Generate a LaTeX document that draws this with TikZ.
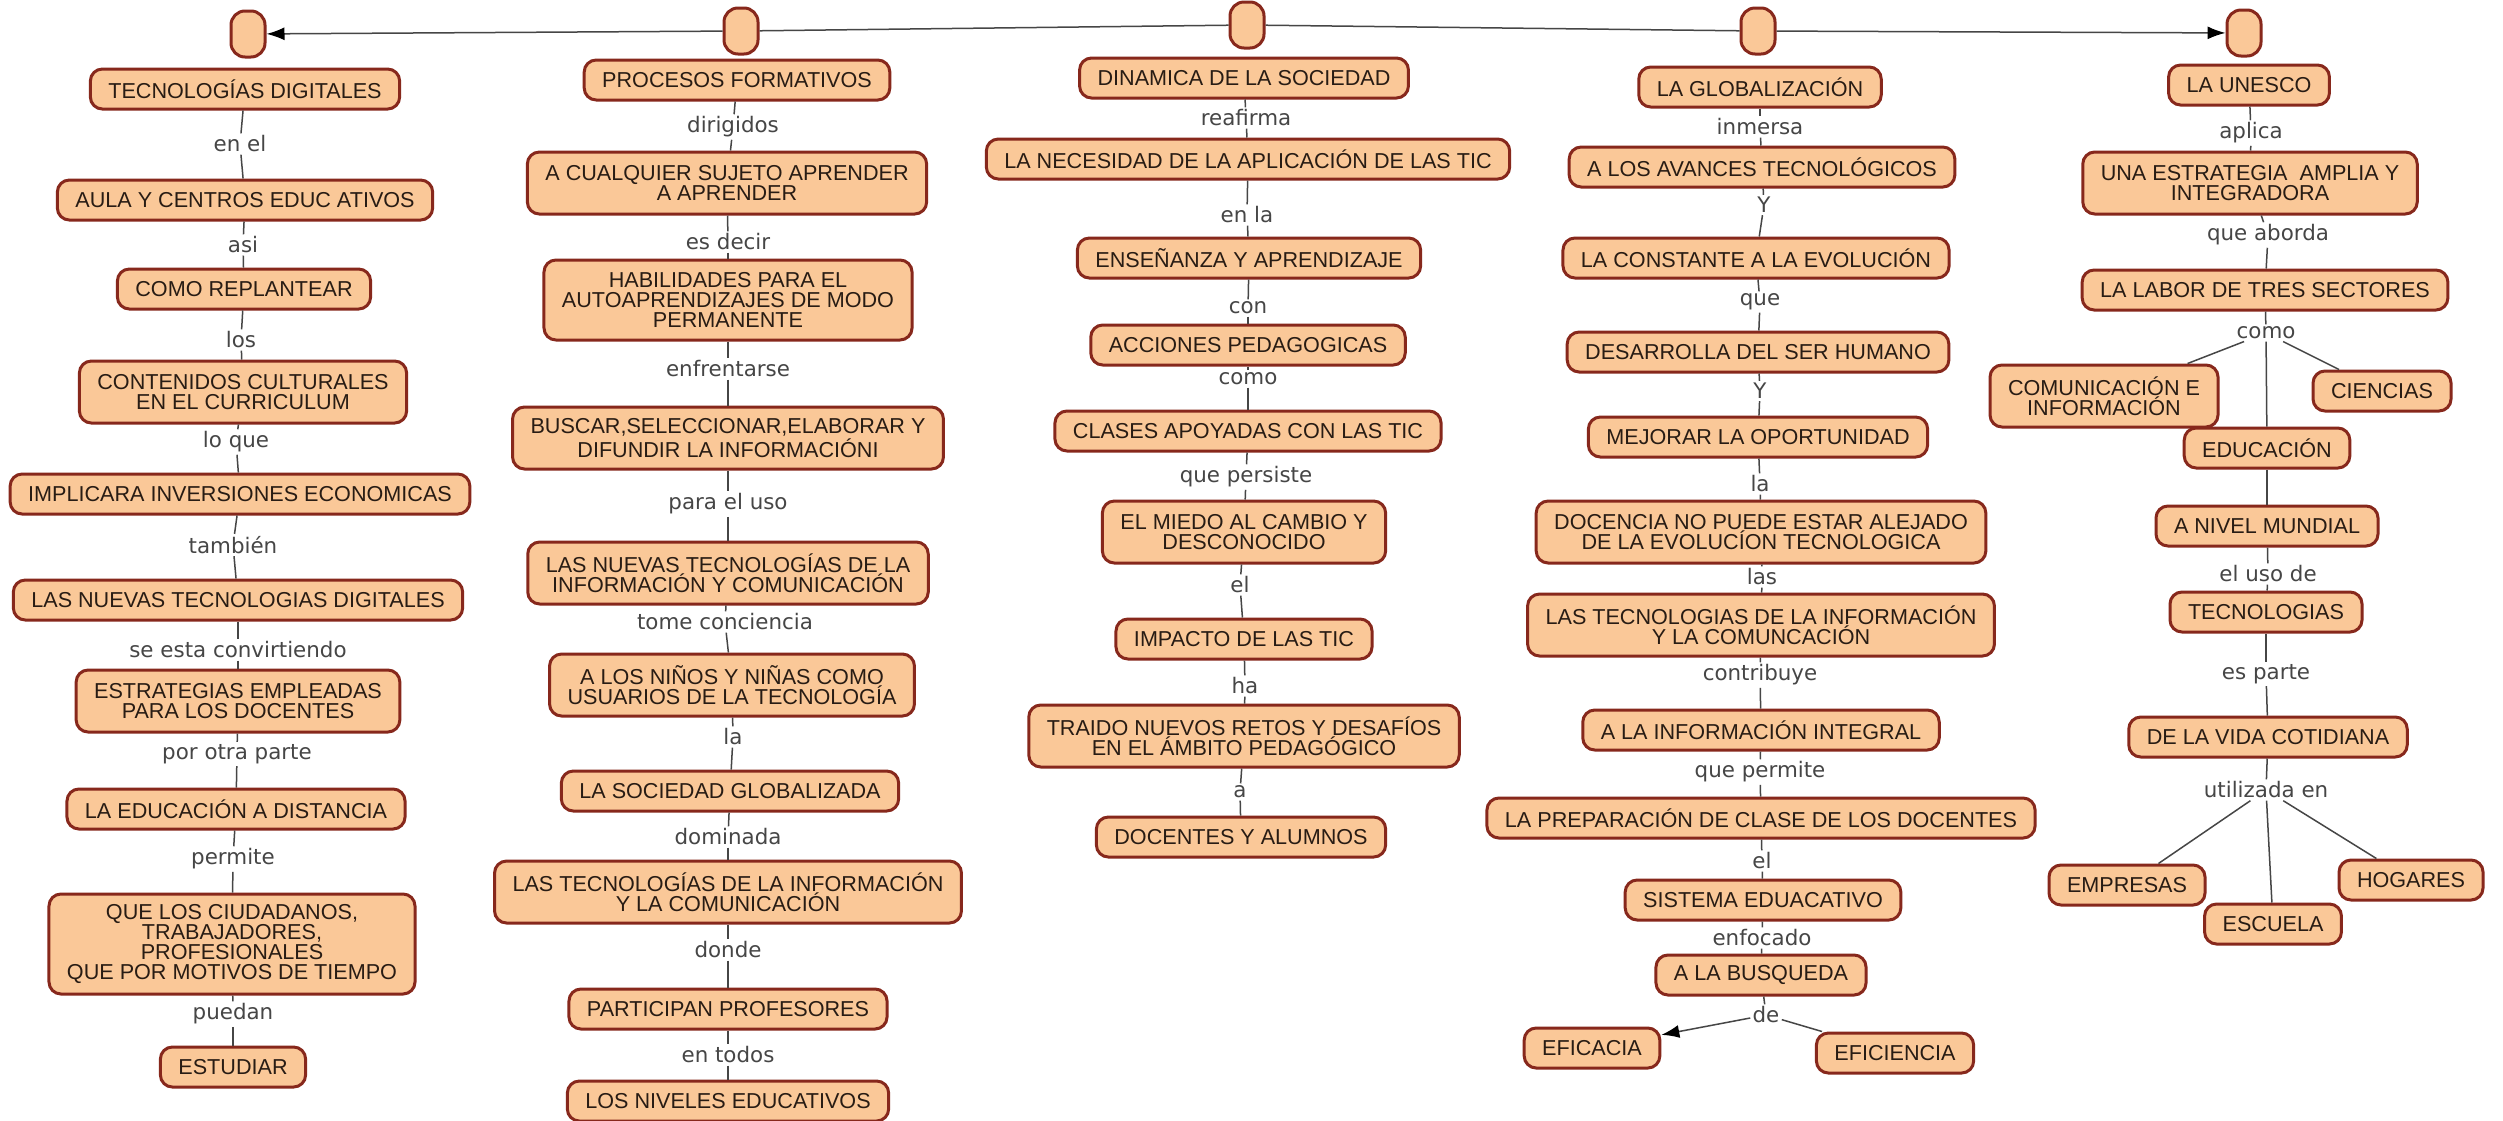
\documentclass[tikz,border=0pt]{standalone}
\usepackage{fontspec}
\setmainfont{Liberation Sans}
\newfontfamily\linkfont{DejaVu Sans}
\usetikzlibrary{arrows.meta}

\definecolor{boxfill}{RGB}{250,200,152}
\definecolor{boxline}{RGB}{135,40,28}
\definecolor{boxtext}{RGB}{40,28,20}
\definecolor{linkgray}{RGB}{70,70,70}

\begin{document}
\begin{tikzpicture}[x=0.5pt, y=-0.5pt,
concept/.style={draw=boxline, line width=1.5pt, fill=boxfill, rounded corners=6pt, text=boxtext, align=center, inner xsep=9pt, inner ysep=2pt, minimum height=20pt, font=\fontsize{10.8}{10}\selectfont},
hub/.style={concept, minimum width=17pt, minimum height=23pt, inner sep=0pt, rounded corners=7pt},
twolines/.style={minimum height=31pt},
threelines/.style={minimum height=40pt},
fourlines/.style={minimum height=50pt},
link/.style={text=linkgray, inner sep=1pt, font=\linkfont\fontsize{10.7}{11}\selectfont}]
\tikzstyle{edge}=[draw=linkgray, line width=0.75pt]
\tikzstyle{tip}=[-{Latex[length=9pt,width=6.5pt,color=black]}]
\fill[white] (0,0) rectangle (2503,1120);
\useasboundingbox (0,0) rectangle (2503,1120);
%hubs
\node[hub] (hubA) at (248,34) {};
\node[hub] (hubB) at (741,31) {};
\node[hub] (hubC) at (1247,25) {};
\node[hub] (hubD) at (1758,31) {};
\node[hub] (hubE) at (2244,33) {};
%tecnologias digitales
\node[concept] (tecdig) at (245,89) {TECNOLOGÍAS DIGITALES};
\node[link] (enel) at (240,144) {en el};
\node[concept] (aula) at (245,200) {AULA Y CENTROS EDUC ATIVOS};
\node[link] (asi) at (243,245) {asi};
\node[concept] (replan) at (244,289) {COMO REPLANTEAR};
\node[link] (los) at (241,340) {los};
\node[concept,twolines] (conten) at (243,392) {CONTENIDOS CULTURALES\\EN EL CURRICULUM};
\node[link] (loque) at (236,442) {lo que};
\node[concept] (inver) at (240,494) {IMPLICARA INVERSIONES ECONOMICAS};
\node[link] (tambien) at (233,545) {también};
\node[concept] (nuevdig) at (238,600) {LAS NUEVAS TECNOLOGIAS DIGITALES};
\node[link] (seesta) at (238,650) {se esta convirtiendo};
\node[concept,twolines] (estrat) at (238,701) {ESTRATEGIAS EMPLEADAS\\PARA LOS DOCENTES};
\node[link] (porotra) at (237,754) {por otra parte};
\node[concept] (edudist) at (236,809) {LA EDUCACIÓN A DISTANCIA};
\node[link] (permite) at (233,859) {permite};
\node[concept,fourlines] (ciudad) at (232,944) {QUE LOS CIUDADANOS,\\TRABAJADORES,\\PROFESIONALES\\QUE POR MOTIVOS DE TIEMPO};
\node[link] (puedan) at (233,1014) {puedan};
\node[concept] (estud) at (233,1067) {ESTUDIAR};
%procesos formativos
\node[concept] (procform) at (737,80) {PROCESOS FORMATIVOS};
\node[link] (dirig) at (733,127) {dirigidos};
\node[concept,twolines] (sujeto) at (727,183) {A CUALQUIER SUJETO APRENDER\\A APRENDER};
\node[link] (esdecir) at (728,242) {es decir};
\node[concept,threelines] (habil) at (728,300) {HABILIDADES PARA EL\\AUTOAPRENDIZAJES DE MODO\\PERMANENTE};
\node[link] (enfren) at (728,369) {enfrentarse};
\node[concept,twolines] (buscar) at (728,438) {BUSCAR,SELECCIONAR,ELABORAR Y\\DIFUNDIR LA INFORMACIÓNI};
\node[link] (parauso) at (728,504) {para el uso};
\node[concept,twolines] (nuevtic) at (728,573) {LAS NUEVAS TECNOLOGÍAS DE LA\\INFORMACIÓN Y COMUNICACIÓN};
\node[link] (tome) at (725,622) {tome conciencia};
\node[concept,twolines] (ninos) at (732,685) {A LOS NIÑOS Y NIÑAS COMO\\USUARIOS DE LA TECNOLOGÍA};
\node[link] (laB) at (733,737) {la};
\node[concept] (socglob) at (730,791) {LA SOCIEDAD GLOBALIZADA};
\node[link] (domin) at (728,837) {dominada};
\node[concept,twolines] (ticB) at (728,892) {LAS TECNOLOGÍAS DE LA INFORMACIÓN\\Y LA COMUNICACIÓN};
\node[link] (donde) at (728,950) {donde};
\node[concept] (partic) at (728,1009) {PARTICIPAN PROFESORES};
\node[link] (entodos) at (728,1055) {en todos};
\node[concept] (niveles) at (728,1101) {LOS NIVELES EDUCATIVOS};
%dinamica de la sociedad
\node[concept] (dinam) at (1244,78) {DINAMICA DE LA SOCIEDAD};
\node[link] (reaf) at (1246,118) {reafirma};
\node[concept] (neces) at (1248,159) {LA NECESIDAD DE LA APLICACIÓN DE LAS TIC};
\node[link] (enla) at (1247,215) {en la};
\node[concept] (ensen) at (1249,258) {ENSEÑANZA Y APRENDIZAJE};
\node[link] (con) at (1248,308) {con};
\node[concept] (acciones) at (1248,345) {ACCIONES PEDAGOGICAS};
\node[link] (comoC) at (1248,379) {como};
\node[concept] (clases) at (1248,431) {CLASES APOYADAS CON LAS TIC};
\node[link] (persiste) at (1246,477) {que persiste};
\node[concept,twolines] (miedo) at (1244,532) {EL MIEDO AL CAMBIO Y\\DESCONOCIDO};
\node[link] (elC) at (1240,585) {el};
\node[concept] (impacto) at (1244,639) {IMPACTO DE LAS TIC};
\node[link] (ha) at (1245,686) {ha};
\node[concept,twolines] (retos) at (1244,736) {TRAIDO NUEVOS RETOS Y DESAFÍOS\\EN EL ÁMBITO PEDAGÓGICO};
\node[link] (aC) at (1240,792) {a};
\node[concept] (docal) at (1241,837) {DOCENTES Y ALUMNOS};
%globalizacion
\node[concept] (glob) at (1760,87) {LA GLOBALIZACIÓN};
\node[link] (inmersa) at (1760,127) {inmersa};
\node[concept] (avances) at (1762,167) {A LOS AVANCES TECNOLÓGICOS};
\node[link] (yD1) at (1764,205) {Y};
\node[concept] (constante) at (1756,258) {LA CONSTANTE A LA EVOLUCIÓN};
\node[link] (queD) at (1760,302) {que};
\node[concept] (desarr) at (1758,352) {DESARROLLA DEL SER HUMANO};
\node[link] (yD2) at (1760,391) {Y};
\node[concept] (mejorar) at (1758,437) {MEJORAR LA OPORTUNIDAD};
\node[link] (laD) at (1760,484) {la};
\node[concept,twolines] (docencia) at (1761,532) {DOCENCIA NO PUEDE ESTAR ALEJADO\\DE LA EVOLUCÍON TECNOLOGICA};
\node[link] (las) at (1762,577) {las};
\node[concept,twolines] (ticD) at (1761,625) {LAS TECNOLOGIAS DE LA INFORMACIÓN\\Y LA COMUNCACIÓN};
\node[link] (contrib) at (1760,675) {contribuye};
\node[concept] (integral) at (1761,730) {A LA INFORMACIÓN INTEGRAL};
\node[link] (queperm) at (1760,772) {que permite};
\node[concept] (prepar) at (1761,818) {LA PREPARACIÓN DE CLASE DE LOS DOCENTES};
\node[link] (elD) at (1762,861) {el};
\node[concept] (sistema) at (1763,900) {SISTEMA EDUACATIVO};
\node[link] (enfoc) at (1762,938) {enfocado};
\node[concept] (busq) at (1761,975) {A LA BUSQUEDA};
\node[link] (de) at (1766,1015) {de};
\node[concept] (eficacia) at (1592,1048) {EFICACIA};
\node[concept] (eficien) at (1895,1053) {EFICIENCIA};
%unesco
\node[concept] (unesco) at (2249,85) {LA UNESCO};
\node[link] (aplica) at (2251,133) {aplica};
\node[concept,twolines] (estrategia) at (2250,183) {UNA ESTRATEGIA~ AMPLIA Y\\INTEGRADORA};
\node[link] (aborda) at (2268,235) {que aborda};
\node[concept] (labor) at (2265,290) {LA LABOR DE TRES SECTORES};
\node[link] (comoE) at (2266,333) {como};
\node[concept,twolines] (comunic) at (2104,396) {COMUNICACIÓN E\\INFORMACIÓN};
\node[concept] (ciencias) at (2382,391) {CIENCIAS};
\node[concept] (educ) at (2267,448) {EDUCACIÓN};
\node[concept] (mundial) at (2267,526) {A NIVEL MUNDIAL};
\node[link] (eluso) at (2268,574) {el uso de};
\node[concept] (tecnol) at (2266,612) {TECNOLOGIAS};
\node[link] (esparte) at (2266,674) {es parte};
\node[concept] (cotid) at (2268,737) {DE LA VIDA COTIDIANA};
\node[link] (utiliz) at (2266,790) {utilizada en};
\node[concept] (empresas) at (2127,885) {EMPRESAS};
\node[concept] (escuela) at (2273,924) {ESCUELA};
\node[concept] (hogares) at (2411,880) {HOGARES};
%links
\draw[edge,tip] (hubC) -- (hubB) -- (hubA);
\draw[edge,tip] (hubC) -- (hubD) -- (hubE);
\foreach \a/\b in {tecdig/enel, enel/aula, aula/asi, asi/replan, replan/los, los/conten, conten/loque, loque/inver, inver/tambien, tambien/nuevdig, nuevdig/seesta, seesta/estrat, estrat/porotra, porotra/edudist, edudist/permite, permite/ciudad, ciudad/puedan, puedan/estud}
  \draw[edge] (\a) -- (\b);
\foreach \a/\b in {procform/dirig, dirig/sujeto, sujeto/esdecir, esdecir/habil, habil/enfren, enfren/buscar, buscar/parauso, parauso/nuevtic, nuevtic/tome, tome/ninos, ninos/laB, laB/socglob, socglob/domin, domin/ticB, ticB/donde, donde/partic, partic/entodos, entodos/niveles}
  \draw[edge] (\a) -- (\b);
\foreach \a/\b in {dinam/reaf, reaf/neces, neces/enla, enla/ensen, ensen/con, con/acciones, acciones/comoC, comoC/clases, clases/persiste, persiste/miedo, miedo/elC, elC/impacto, impacto/ha, ha/retos, retos/aC, aC/docal}
  \draw[edge] (\a) -- (\b);
\foreach \a/\b in {glob/inmersa, inmersa/avances, avances/yD1, yD1/constante, constante/queD, queD/desarr, desarr/yD2, yD2/mejorar, mejorar/laD, laD/docencia, docencia/las, las/ticD, ticD/contrib, contrib/integral, integral/queperm, queperm/prepar, prepar/elD, elD/sistema, sistema/enfoc, enfoc/busq, busq/de, de/eficien}
  \draw[edge] (\a) -- (\b);
\draw[edge,tip] (de) -- (eficacia);
\foreach \a/\b in {unesco/aplica, aplica/estrategia, estrategia/aborda, aborda/labor, labor/comoE, comoE/comunic, comoE/ciencias, comoE/educ, educ/mundial, mundial/eluso, eluso/tecnol, tecnol/esparte, esparte/cotid, cotid/utiliz, utiliz/empresas, utiliz/escuela, utiliz/hogares}
  \draw[edge] (\a) -- (\b);
\end{tikzpicture}
\end{document}
